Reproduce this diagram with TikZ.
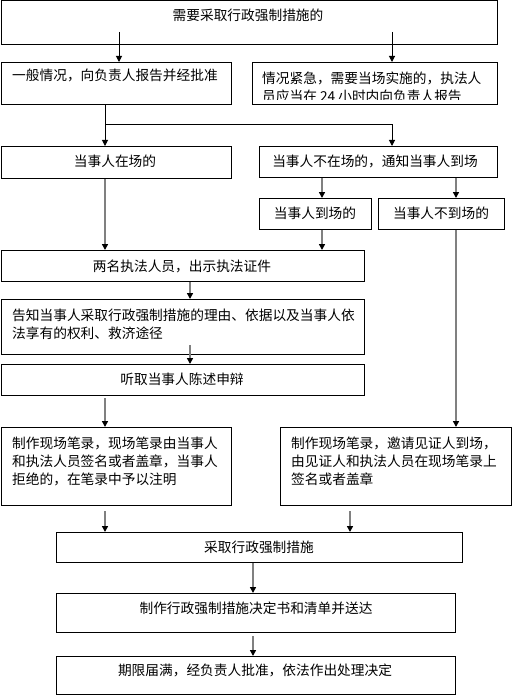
\documentclass[tikz,border=0pt]{standalone}
\usepackage{fontspec}
\setmainfont{Noto Sans CJK SC}
\usetikzlibrary{arrows.meta}
\begin{document}
\begin{tikzpicture}[x=1pt,y=-1pt,
  box/.style={draw=black,line width=1pt,anchor=north west,inner sep=0pt,fill=white},
  txt/.style={inner sep=0pt,font=\fontsize{13.7}{18.3}\selectfont},
  mtxt/.style={txt,anchor=base west,align=left},
  tip/.style={-{Triangle[width=6pt,length=6pt,color=black,fill=black]}},
  blk/.style={draw=black,line width=1pt,tip},
  gry/.style={draw=black!50,line width=1.6pt,tip}
]
\useasboundingbox (0,0) rectangle (512,695);
% boxes
\node[box,minimum width=496pt,minimum height=43.5pt] (top) at (0.5,0.5) {};
\node[box,minimum width=230.5pt,minimum height=42pt] (b2L) at (0.5,62) {};
\node[box,minimum width=245pt,minimum height=42pt] (b2R) at (252,62) {};
\node[box,minimum width=230.5pt,minimum height=32pt] (b3L) at (0.5,146) {};
\node[box,minimum width=238pt,minimum height=31pt] (b3R) at (259,146) {};
\node[box,minimum width=112pt,minimum height=31pt] (b4a) at (259,198) {};
\node[box,minimum width=126pt,minimum height=31pt] (b4b) at (378,198) {};
\node[box,minimum width=363.5pt,minimum height=31pt] (b5) at (0.5,250) {};
\node[box,minimum width=363.5pt,minimum height=55pt] (b6) at (0.5,299) {};
\node[box,minimum width=363.5pt,minimum height=31pt] (b7) at (0.5,364) {};
\node[box,minimum width=230.5pt,minimum height=78pt] (b8L) at (0.5,427) {};
\node[box,minimum width=231pt,minimum height=78pt] (b8R) at (280,427) {};
\node[box,minimum width=406pt,minimum height=30pt] (b9) at (56,532) {};
\node[box,minimum width=399pt,minimum height=39pt] (b10) at (56,593) {};
\node[box,minimum width=399pt,minimum height=38pt] (b11) at (56,656) {};
% column coordinates
\coordinate (cA) at (105,0);
\coordinate (cB) at (119,0);
\coordinate (cC) at (392,0);
\coordinate (cD) at (322,0);
\coordinate (cE) at (456,0);
\coordinate (cF) at (190,0);
\coordinate (cG) at (350,0);
\coordinate (cH) at (253,0);
\coordinate (split) at (105,125);
% texts
\node[txt,anchor=base] (t1) at (248,20.2) {需要采取行政强制措施的};
\node[mtxt] (t2L) at (12,80.2) {一般情况，向负责人报告并经批准};
\begin{scope}
\clip (252,62) rectangle (497,100);
\node[mtxt] (t2R) at (262,101.5) {情况紧急，需要当场实施的，执法人\\员应当在 24 小时内向负责人报告};
\end{scope}
\node[txt,anchor=base] (t3L) at (115,167) {当事人在场的};
\node[txt,anchor=base] (t3R) at (375,166.2) {当事人不在场的，通知当事人到场};
\node[txt,anchor=base] (t4a) at (315,218.2) {当事人到场的};
\node[txt,anchor=base] (t4b) at (441,218.2) {当事人不到场的};
\node[txt,anchor=base] (t5) at (182,271.2) {两名执法人员，出示执法证件};
\node[mtxt] (t6) at (12,338.5) {告知当事人采取行政强制措施的理由、依据以及当事人依\\法享有的权利、救济途径};
\node[txt,anchor=base] (t7) at (182,384.2) {听取当事人陈述申辩};
\node[mtxt] (t8L) at (12,484.8) {制作现场笔录，现场笔录由当事人\\和执法人员签名或者盖章，当事人\\拒绝的，在笔录中予以注明};
\node[mtxt] (t8R) at (291,484.8) {制作现场笔录，邀请见证人到场，\\由见证人和执法人员在现场笔录上\\签名或者盖章};
\node[txt,anchor=base] (t9) at (259,552.2) {采取行政强制措施};
\node[txt,anchor=base] (t10) at (256,613.2) {制作行政强制措施决定书和清单并送达};
\node[txt,anchor=base] (t11) at (255,675.2) {期限届满，经负责人批准，依法作出处理决定};
% connectors
\draw[blk] ([yshift=13pt]top.south -| cB) -- (b2L.north -| cB);
\draw[blk] ([yshift=13pt]top.south -| cC) -- (b2R.north -| cC);
\draw[blk] (b2L.south -| cA) -- (b3L.north -| cA);
\draw[blk] (split) -| (b3R.north -| cC);
\draw[gry] (b3L.south -| cA) -- (b5.north -| cA);
\draw[gry] (b3R.south -| cD) -- (b4a.north -| cD);
\draw[gry] (b3R.south -| cE) -- (b4b.north -| cE);
\draw[gry] (b4a.south -| cD) -- (b5.north -| cD);
\draw[gry] (b4b.south -| cE) -- (b8R.north -| cE);
\draw[gry] (b5.south -| cF) -- (b6.north -| cF);
\draw[gry] ([yshift=10pt]b6.south -| cF) -- (b7.north -| cF);
\draw[gry] ([yshift=-2pt]b7.south -| cA) -- (b8L.north -| cA);
\draw[gry] ([yshift=-5pt]b8L.south -| cA) -- (b9.north -| cA);
\draw[gry] ([yshift=-5pt]b8R.south -| cG) -- (b9.north -| cG);
\draw[gry] (b9.south -| cH) -- (b10.north -| cH);
\draw[gry] ([yshift=-3pt]b10.south -| cH) -- (b11.north -| cH);
\end{tikzpicture}
\end{document}
